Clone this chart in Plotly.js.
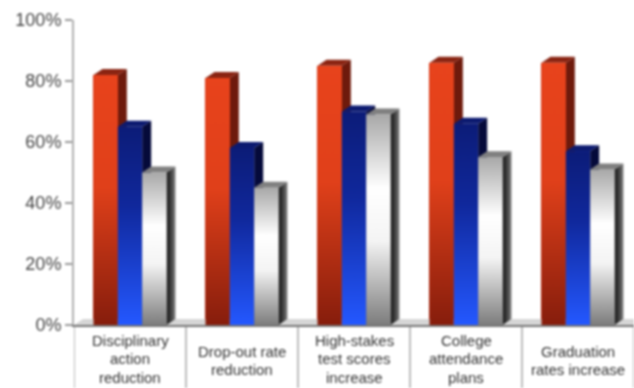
<!DOCTYPE html>
<html><head><meta charset="utf-8">
<script src="https://cdn.plot.ly/plotly-3.0.1.min.js"></script>
<style>html,body{margin:0;padding:0;background:#fff;overflow:hidden}#c{width:634px;height:388px;filter:blur(0.8px)}</style>
</head><body><div id="c"></div>
<script>
const categories = ["Disciplinary action reduction","Drop-out rate reduction","High-stakes test scores increase","College attendance plans","Graduation rates increase"];
const labelLines = [["Disciplinary","action","reduction"],["Drop-out rate","reduction"],["High-stakes","test scores","increase"],["College","attendance","plans"],["Graduation","rates increase"]];
const redValues = [82,81,85,86,86];
const blueValues = [65,58,70,66,57];
const greyValues = [50,45,69,55,51];
const yTicks = [0,20,40,60,80,100];
const seriesList = [
 {name:"Red",values:redValues,mean:"#c8341a",side:"#6e1a0c",top:"#8a2412",
  grad:[[0,"#e8431c"],[0.45,"#e0401a"],[1,"#861d0c"]]},
 {name:"Blue",values:blueValues,mean:"#1c3cc0",side:"#050a3a",top:"#0c1a70",
  grad:[[0,"#0c1c78"],[0.4,"#10289c"],[1,"#2458ff"]]},
 {name:"Grey",values:greyValues,mean:"#cccccc",side:"#333333",top:"#808080",
  grad:[[0,"#a8a8a8"],[0.35,"#ffffff"],[0.6,"#f4f4f4"],[1,"#7c7c7c"]]}
];
// geometry in axis units: plot spans 74..634px (5 categories) and 0..100 over 305px
const groupW=0.652, barW=groupW/3, dx=9/112, dy=6/3.05;
const traces=[];
function poly(xs,ys,color,extra){return Object.assign({type:"scatter",mode:"lines",x:xs,y:ys,fill:"toself",fillcolor:color,line:{width:0},hoverinfo:"skip",showlegend:false},extra||{});}
// floor
traces.push(poly([0,dx,5,5,0],[0,dy,dy,0,0],"#d6d6d6"));
seriesList.forEach((s,i)=>{
 const centers=s.values.map((_,k)=>k+0.5);
 traces.push({type:"bar",name:s.name,x:centers,y:s.values,width:barW,offset:-groupW/2+i*barW,marker:{color:s.mean,line:{width:0}},showlegend:false,hoverinfo:"y"});
});
// draw left-to-right within each group so that each front overlaps the neighbouring side face
for(let k=0;k<5;k++){
 [0,1,2].forEach(i=>{
  const s=seriesList[i], v=s.values[k], l=k+0.5-groupW/2+i*barW, r=l+barW;
  traces.push(poly([r,r+dx,r+dx,r,r],[0,dy,v+dy,v,0],s.side,i==2?{fillgradient:{type:"horizontal",colorscale:[[0,"#151515"],[0.6,"#4a4a4a"],[1,"#8a8a8a"]]}}:{}));
  traces.push(poly([l,l+dx,r+dx,r,l],[v,v+dy,v+dy,v,v],s.top));
  traces.push(poly([l,r,r,l,l],[0,0,v,v,0],s.mean,{fillgradient:{type:"vertical",colorscale:s.grad.map(c=>[1-c[0],c[1]]).reverse()}}));
 });
}
const annotations=[];
labelLines.forEach((lines,k)=>{
 const y0=lines.length==3?340:351;
 lines.forEach((t,j)=>{
  annotations.push({xref:"x",yref:"paper",x:k+0.5,y:(325-(y0+j*18.5))/305,text:t,showarrow:false,xanchor:"center",yanchor:"middle",
    font:{family:"Liberation Sans, Arial, sans-serif",size:15,color:"#333333"}});
 });
});
const seps=[0,1,2,3,4,5].map(k=>({type:"line",xref:"x",yref:"paper",x0:k,x1:k,y0:(325-388)/305,y1:(325-327)/305,line:{color:"#9a9a9a",width:1.3}}));
const layout={width:634,height:388,autosize:false,margin:{l:74,r:0,t:20,b:63},paper_bgcolor:"#fff",plot_bgcolor:"#fff",showlegend:false,bargap:0,
 xaxis:{range:[0,5],tickvals:[0.5,1.5,2.5,3.5,4.5],ticktext:["","","","",""],ticks:"",showgrid:false,zeroline:false,showline:true,linecolor:"#777",linewidth:1.5,fixedrange:true},
 yaxis:{range:[0,100],tickvals:yTicks,ticktext:yTicks.map(v=>v+"%"),ticks:"outside",ticklen:7,tickcolor:"#999",tickwidth:1.2,showgrid:false,zeroline:false,showline:true,linecolor:"#b0b0b0",linewidth:2,fixedrange:true,tickfont:{family:"Liberation Sans, Arial, sans-serif",size:18,color:"#444"}},
 annotations:annotations,shapes:seps};
Plotly.newPlot("c",traces,layout,{displayModeBar:false,staticPlot:true});
</script></body></html>
